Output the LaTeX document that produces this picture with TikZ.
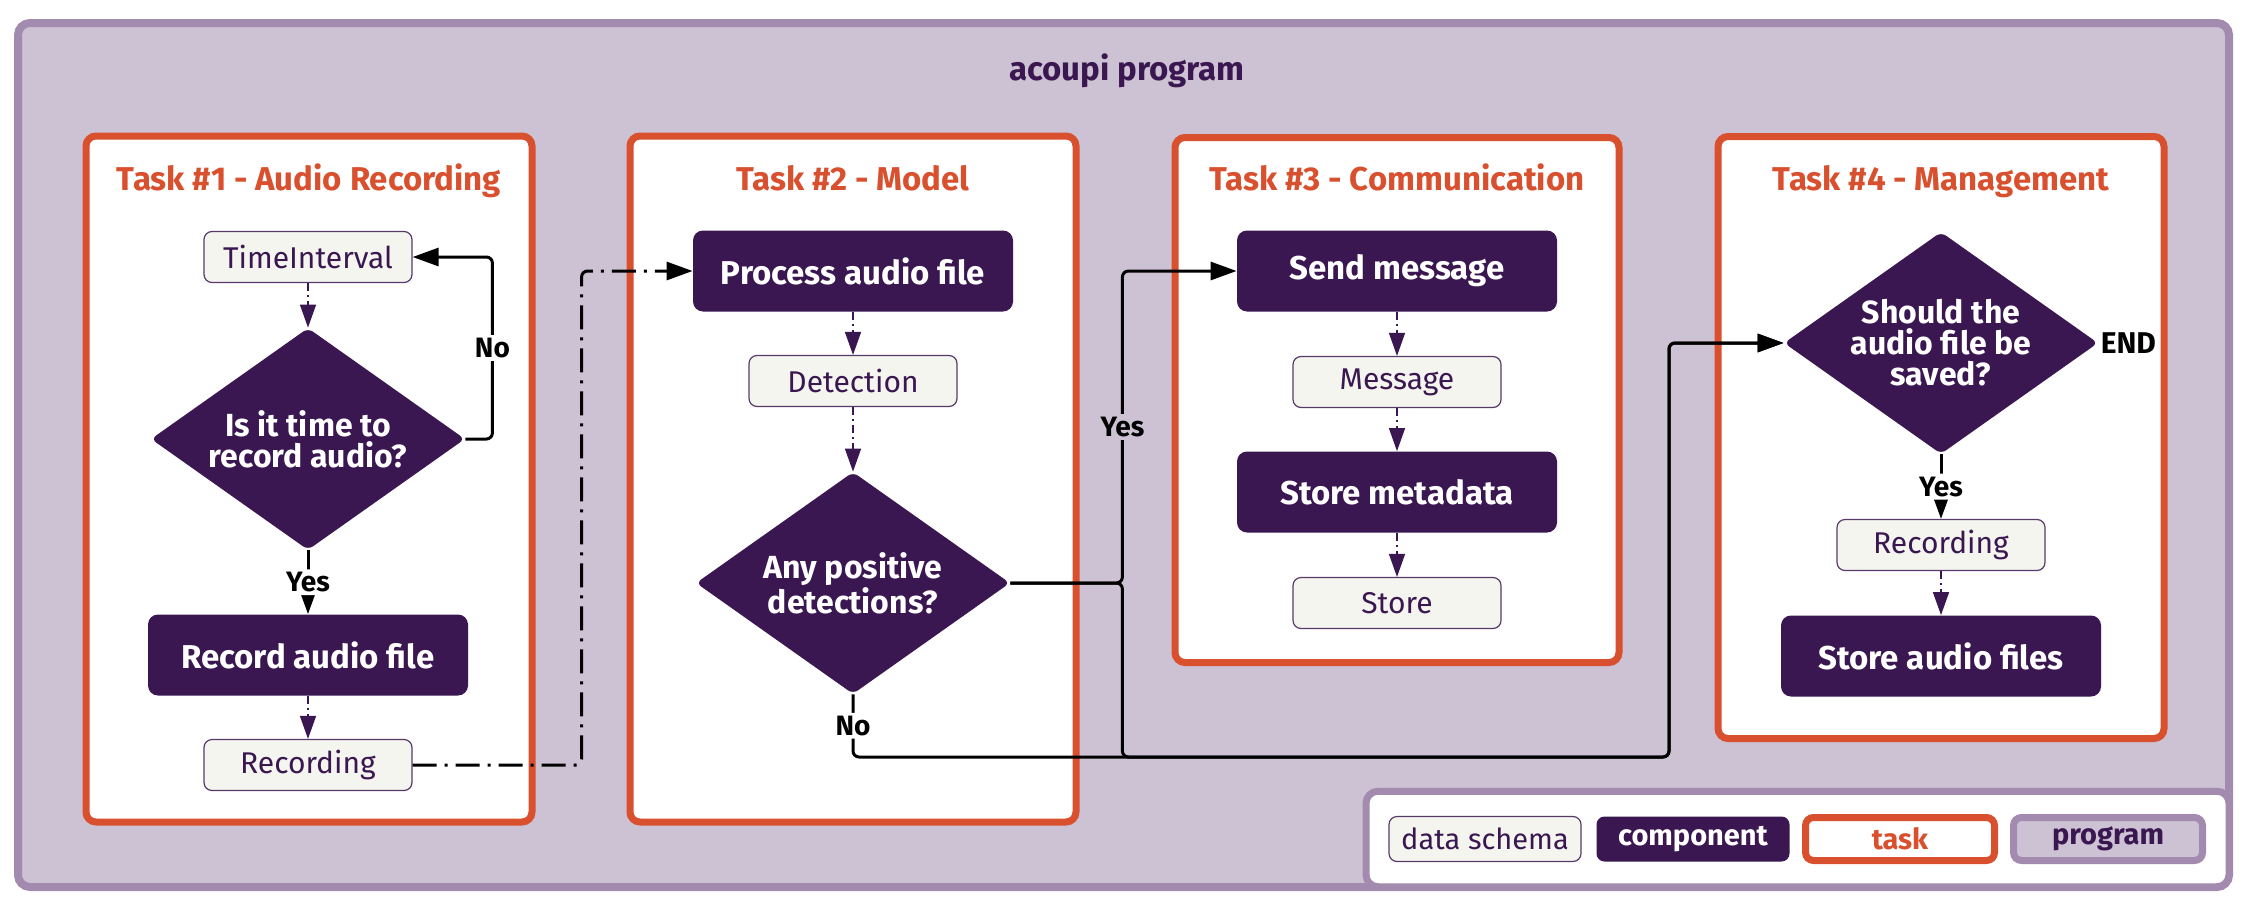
\documentclass[tikz,border=0pt]{standalone}
\usepackage{fontspec}
\setmainfont{Fira Sans}
\usetikzlibrary{shapes.geometric,arrows.meta}
\definecolor{aubergine}{HTML}{3A1750}
\definecolor{taskorange}{HTML}{D9502F}
\definecolor{lilac}{HTML}{CDC1D4}
\definecolor{lilacedge}{HTML}{A38BB0}
\definecolor{schemafill}{HTML}{F5F5F0}

\begin{document}
\begin{tikzpicture}[x=0.5pt,y=-0.5pt,
	comp_node/.style={fill=aubergine,text=white,rounded corners=5pt,minimum width=160pt,minimum height=40.5pt,font=\fontsize{16.5}{18}\selectfont\bfseries},
	data_node/.style={fill=schemafill,draw=aubergine!85,line width=0.6pt,rounded corners=4pt,minimum width=104pt,minimum height=25.5pt,text=aubergine,font=\fontsize{15}{17}\selectfont},
	decision_node/.style={diamond,aspect=1.41,fill=aubergine,text=white,rounded corners=3pt,minimum width=157pt,minimum height=111pt,inner sep=0pt,align=center,font=\fontsize{16}{15.5}\selectfont\bfseries},
	task_node/.style={draw=taskorange,line width=3.5pt,fill=white,rounded corners=5pt},
	title_node/.style={anchor=base,text=taskorange,font=\fontsize{16.5}{18}\selectfont\bfseries},
	flow/.style={line width=1.5pt,rounded corners=3pt,-{Triangle[length=13pt,width=9pt]}},
	data_flow/.style={draw=aubergine,line width=0.7pt,dash pattern=on 4pt off 2pt on 1pt off 2pt,-{Triangle[length=11.5pt,width=8pt]}},
	edge_label/.style={fill=white,inner sep=1.5pt,font=\fontsize{14}{16}\selectfont\bfseries}]
	\useasboundingbox (0,0) rectangle (2254,910);

	% program frame and legend
	\node[draw=lilacedge,fill=lilac,line width=4pt,rounded corners=6pt,minimum width=1105.5pt,minimum height=432pt] (program) at (1123.5,455) {};
	\node[anchor=base,text=aubergine,font=\fontsize{16.5}{18}\selectfont\bfseries] (ptitle) at (1127,80) {acoupi program};
	\node[draw=lilacedge,fill=white,line width=3.5pt,rounded corners=6pt,minimum width=431.5pt,minimum height=47.75pt] (legend) at (1797.5,839) {};

	% tasks
	\node[task_node,minimum width=223pt,minimum height=343pt] (task1) at (309,479) {};
	\node[task_node,minimum width=223pt,minimum height=343pt] (task2) at (853,479) {};
	\node[task_node,minimum width=222pt,minimum height=262.5pt] (task3) at (1397,400) {};
	\node[task_node,minimum width=223pt,minimum height=301pt] (task4) at (1941,437.5) {};
	\node[title_node] (title1) at (309,190) {Task \#1 - Audio Recording};
	\node[title_node] (title2) at (853,190) {Task \#2 - Model};
	\node[title_node] (title3) at (1397,190) {Task \#3 - Communication};
	\node[title_node] (title4) at (1941,190) {Task \#4 - Management};

	% task 1
	\node[data_node] (ti) at (308,257) {TimeInterval};
	\node[decision_node] (d1) at (308,439) {Is it time to\\record audio?};
	\node[comp_node] (rec) at (308,655) {Record audio file};
	\node[data_node] (rec1) at (308,765) {Recording};

	% task 2
	\node[comp_node] (proc) at (853,271) {Process audio file};
	\node[data_node] (det) at (853,381) {Detection};
	\node[decision_node] (d2) at (853,583) {Any positive\\detections?};

	% task 3
	\node[comp_node] (send) at (1397,271) {Send message};
	\node[data_node] (msg) at (1397,382) {Message};
	\node[comp_node] (meta) at (1397,492) {Store metadata};
	\node[data_node] (store) at (1397,603) {Store};

	% task 4
	\node[decision_node] (d4) at (1941,343) {Should the\\audio file be\\saved?};
	\node[anchor=west,inner sep=1pt,font=\fontsize{15}{17}\selectfont\bfseries] (end) at (d4.east) {END};
	\node[data_node] (rec4) at (1941,545) {Recording};
	\node[comp_node] (saud) at (1941,656) {Store audio files};

	% legend items
	\node[data_node,minimum width=96pt,minimum height=22.5pt,font=\fontsize{14.5}{16}\selectfont] (lschema) at (1485,839) {data schema};
	\node[comp_node,minimum width=96.5pt,minimum height=22.5pt,rounded corners=4pt,font=\fontsize{14.5}{16}\selectfont\bfseries] (lcomp) at (1693,839) {component};
	\node[task_node,minimum width=94.5pt,minimum height=21.5pt,rounded corners=4pt,text=taskorange,font=\fontsize{14.5}{16}\selectfont\bfseries] (ltask) at (1900,839) {task};
	\node[draw=lilacedge,fill=lilac,line width=3.5pt,rounded corners=4pt,minimum width=94.5pt,minimum height=21.5pt,text=aubergine,font=\fontsize{14.5}{16}\selectfont\bfseries] (lprog) at (2108,839) {program};

	\coordinate (hop) at (1669,757);

	\draw[data_flow] (ti) -- (d1);
	\draw[flow] (d1.east) -- ++(27,0) |- node[edge_label,pos=0.25] {No} (ti.east);
	\draw[flow] (d1) -- node[edge_label] {Yes} (rec);
	\draw[data_flow] (rec) -- (rec1);
	\draw[flow,dash pattern=on 12pt off 4pt on 1.5pt off 4pt] (rec1.east) -- ++(169,0) |- (proc.west);

	\draw[data_flow] (proc) -- (det);
	\draw[data_flow] (det) -- (d2);
	\draw[flow] (d2.east) -- ++(112,0) |- node[edge_label,fill=lilac,pos=0.25] {Yes} (send.west);
	\draw[flow] (d2.east) -- ++(112,0) |- (hop) |- (d4.west);
	\draw[flow] (d2.south) |- node[edge_label,pos=0.25] {No} (hop) |- (d4.west);

	\draw[data_flow] (send) -- (msg);
	\draw[data_flow] (msg) -- (meta);
	\draw[data_flow] (meta) -- (store);

	\draw[flow] (d4) -- node[edge_label] {Yes} (rec4);
	\draw[data_flow] (rec4) -- (saud);
\end{tikzpicture}
\end{document}
